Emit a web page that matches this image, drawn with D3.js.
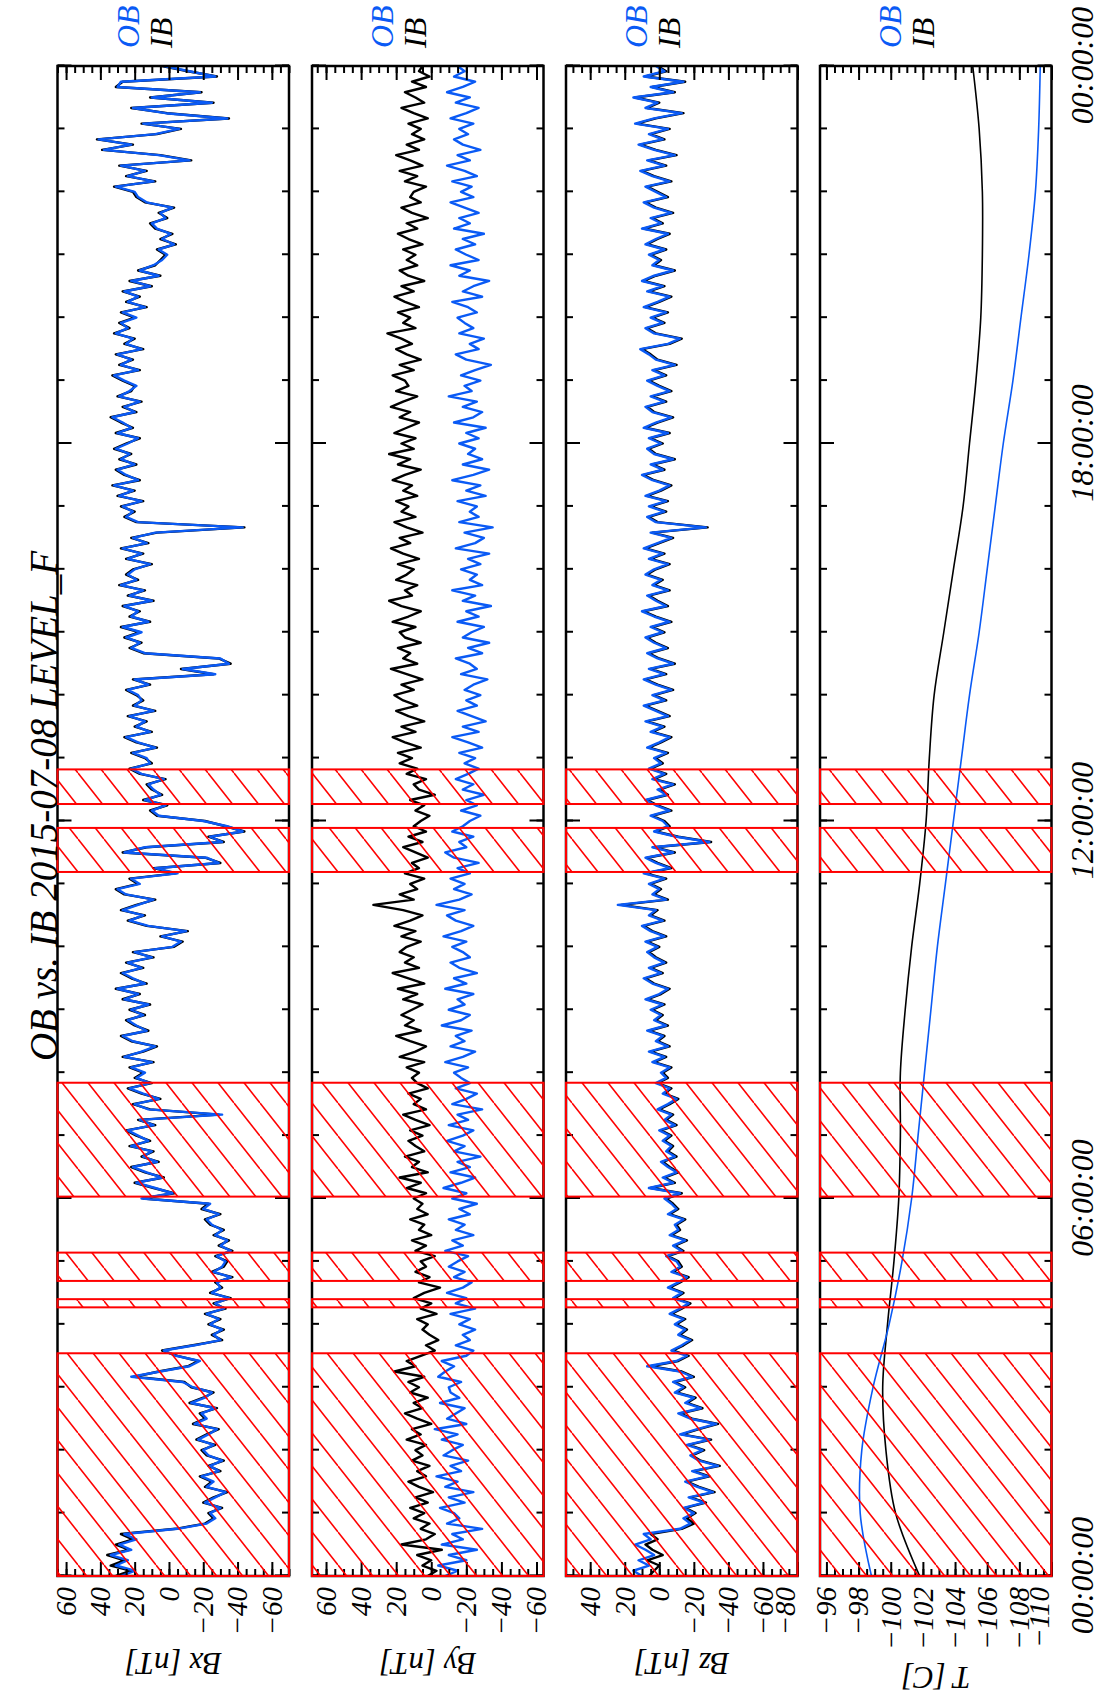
<!DOCTYPE html>
<html><head><meta charset="utf-8">
<script src="https://cdn.jsdelivr.net/npm/d3@7"></script>
<style>
body{margin:0;background:#fff}
svg{display:block}
text{font-family:"Liberation Serif","DejaVu Serif",serif;font-style:italic}
</style>
</head><body>
<svg id="chart" width="1101" height="1697"></svg>
<script>
// ---------- DATA (5-minute samples, 00:00 .. 24:00) ----------
const titleText = "OB vs. IB  2015-07-08 LEVEL_F";
const timeLabels = ["00:00:00","06:00:00","12:00:00","18:00:00","00:00:00"];
const timeMajors = [0, 6, 12, 18, 24];
const flaggedIntervals = [[0,3.54],[4.27,4.40],[4.69,5.14],[6.03,7.84],[11.19,11.89],[12.27,12.82]];

const bxOB = [
 28,20,31,24,34,22,29,19,26,-5,-22,-27,
 -24,-30,-21,-27,-33,-22,-26,-19,-29,-24,-31,-23,
 -20,-26,-17,-23,-28,-15,-22,-19,-27,-13,-21,-25,
 -14,-8,22,5,-12,-18,-4,3,-15,-30,-26,-31,
 -24,-29,-22,-32,-27,-35,-25,-30,-28,-36,-26,-31,
 -33,-28,-36,-30,-34,-27,-31,-25,-22,-29,-20,-24,
 16,-2,8,19,4,13,21,7,15,10,22,12,
 18,24,9,17,-31,12,20,6,15,23,11,19,
 14,22,10,26,16,8,21,27,13,19,24,15,
 22,12,26,18,30,14,21,27,16,24,10,20,
 -2,-7,4,-10,12,23,15,27,18,9,25,30,
 17,22,-5,8,-29,-22,26,14,-31,-24,-43,-34,
 -20,6,10,2,14,5,9,12,3,16,22,11,
 13,21,8,18,25,11,19,14,23,9,20,16,
 18,24,12,20,-27,-8,-35,-30,14,22,17,25,
 16,27,12,22,18,26,10,23,15,28,19,24,
 20,11,24,16,27,13,21,8,-43,18,25,21,
 27,16,29,21,32,18,25,30,20,28,23,31,
 24,18,30,22,27,33,20,26,17,29,23,19,
 26,32,18,28,22,30,16,25,21,31,24,28,
 19,27,14,24,18,26,11,22,6,17,9,4,
 1,6,-3,4,-1,7,10,2,5,-2,13,18,
 20,31,9,24,14,28,-12,6,38,22,41,8,
 -6,15,-34,2,21,-25,10,-18,30,28,-27,-12,
 3
];
const bxIB = [
 31,22,34,26,36,23,31,21,28,-4,-21,-26,
 -23,-31,-20,-26,-34,-21,-25,-18,-30,-23,-32,-22,
 -19,-27,-16,-22,-29,-14,-21,-18,-28,-12,-20,-26,
 -13,-9,20,6,-11,-17,-5,4,-14,-31,-25,-32,
 -23,-30,-21,-33,-26,-36,-24,-31,-27,-37,-25,-32,
 -34,-27,-37,-29,-35,-26,-32,-24,-21,-30,-19,-23,
 15,-3,9,20,3,14,22,6,16,9,23,11,
 19,25,8,18,-29,11,21,5,16,24,10,20,
 15,23,9,27,15,7,22,28,12,20,25,14,
 23,11,27,17,31,13,22,28,15,25,9,21,
 -3,-8,5,-11,13,24,14,28,19,8,26,31,
 18,23,-4,9,-30,-21,27,13,-32,-23,-44,-33,
 -21,7,11,1,15,4,10,13,2,17,23,10,
 14,22,7,19,26,10,20,13,24,8,21,15,
 19,25,11,21,-26,-7,-36,-29,15,23,16,26,
 17,28,11,23,17,27,9,24,14,29,18,25,
 21,10,25,15,28,12,22,7,-44,19,26,20,
 28,15,30,20,33,17,26,31,19,29,22,32,
 25,17,31,21,28,34,19,27,16,30,22,20,
 27,33,17,29,21,31,15,26,20,32,23,29,
 20,28,13,25,17,27,10,23,5,18,8,5,
 2,7,-4,5,-2,8,11,1,6,-3,14,19,
 21,32,8,25,13,29,-13,5,39,21,42,7,
 -7,16,-35,1,22,-26,11,-19,31,27,-28,-11,
 4
];
const byOB = [
 -8,-15,-4,-20,-10,-26,-6,-18,-12,-29,-9,-16,
 -13,-5,-19,-10,-24,-8,-15,-3,-17,-11,-21,-7,
 -12,-18,-6,-15,-2,-20,-9,-14,-19,-5,-16,-11,
 -10,-17,-4,-8,-13,-6,-20,-24,-14,-22,-18,-25,
 -16,-22,-11,-25,-14,-20,-9,-18,-23,-13,-19,-10,
 -15,-21,-8,-18,-12,-24,-14,-19,-10,-22,-16,-26,
 -12,-20,-7,-17,-25,-11,-22,-15,-28,-13,-19,-9,
 -18,-24,-10,-21,-15,-29,-12,-20,-26,-14,-22,-17,
 -13,-21,-8,-18,-25,-11,-19,-14,-23,-6,-17,-22,
 -10,-19,-15,-24,-8,-20,-13,-26,-16,-11,-22,-18,
 -12,-20,-7,-17,-24,-14,-9,-19,-3,-16,-23,-13,
 -19,-11,-22,-15,-27,-13,-8,-20,-16,-24,-12,-18,
 -22,-28,-17,-26,-20,-30,-18,-24,-14,-21,-27,-19,
 -25,-16,-29,-21,-12,-27,-18,-31,-23,-15,-26,-20,
 -28,-19,-24,-32,-17,-26,-22,-14,-29,-21,-33,-18,
 -23,-30,-15,-27,-20,-34,-18,-25,-12,-29,-22,-26,
 -17,-28,-21,-33,-14,-25,-30,-19,-35,-16,-27,-22,
 -26,-15,-31,-20,-28,-12,-24,-33,-18,-29,-21,-25,
 -16,-27,-20,-31,-13,-24,-29,-18,-26,-10,-23,-19,
 -28,-17,-25,-34,-20,-14,-27,-22,-30,-16,-24,-19,
 -15,-26,-21,-12,-29,-18,-24,-33,-16,-22,-11,-27,
 -20,-14,-25,-18,-30,-13,-22,-16,-27,-19,-11,-24,
 -17,-23,-12,-26,-19,-9,-22,-15,-28,-18,-13,-21,
 -16,-24,-11,-20,-27,-14,-22,-9,-18,-25,-13,-19,
 -15
];
const byIB = [
 2,-3,5,0,8,-6,17,3,-2,6,1,10,
 4,12,2,9,-1,7,13,3,8,1,11,5,
 9,3,14,6,11,0,8,15,5,10,2,12,
 7,13,4,21,9,14,6,-2,3,-4,1,5,
 2,8,-3,6,0,10,4,-5,7,1,9,3,
 6,-2,9,3,11,0,7,4,12,2,8,5,
 10,3,14,6,18,2,11,7,15,4,9,13,
 5,12,1,9,16,3,10,6,13,2,8,11,
 7,14,4,18,9,3,12,20,6,15,10,17,
 11,5,16,8,19,4,13,22,7,15,10,18,
 14,6,17,9,21,12,5,16,33,10,18,8,
 12,4,15,7,11,2,9,16,5,13,3,10,
 6,1,9,4,12,-2,7,10,3,14,8,18,
 11,19,6,15,22,9,17,4,13,20,8,16,
 21,10,17,5,14,23,8,16,12,19,6,15,
 18,9,22,13,6,17,24,11,15,8,20,14,
 10,19,7,16,23,12,18,5,14,21,9,17,
 13,20,8,16,11,22,15,6,19,12,24,10,
 17,9,21,14,7,18,12,23,16,8,20,13,
 15,22,10,18,6,14,20,11,17,25,9,16,
 12,19,7,15,21,10,17,4,13,18,8,14,
 9,16,5,13,19,8,14,2,11,17,6,12,
 10,3,15,8,18,5,12,20,7,14,4,11,
 6,13,2,10,17,4,9,15,3,11,1,7,
 5
];
const bzOB = [
 10,15,6,12,3,8,14,5,9,-12,-18,-14,
 -20,-14,-26,-17,-31,-22,-15,-28,-19,-34,-23,-18,
 -25,-16,-29,-12,-22,-33,-18,-11,-24,-15,-20,-9,
 -14,-8,-19,-12,7,-10,-16,-7,-13,-18,-11,-15,
 -9,-14,-6,-12,-17,-8,-13,-5,-11,-16,-7,-12,
 -10,-4,-13,-8,-15,-6,-11,-9,-14,-5,-10,-7,
 -3,-12,6,-8,-2,-10,-5,-1,-9,-4,-7,-2,
 -6,0,-9,-3,-7,1,-5,-10,-2,-6,2,-4,
 -1,-6,4,-3,6,-5,2,-2,7,-4,3,-1,
 5,-2,8,0,-5,4,9,-1,6,-3,3,7,
 1,8,-3,5,10,-2,6,2,24,-4,4,0,
 6,-3,9,-6,2,8,-8,4,-29,-10,3,-5,
 -2,5,-6,2,8,-4,1,-8,4,-3,6,-1,
 3,-4,7,0,-6,5,-2,8,-5,2,9,-3,
 4,-7,2,9,-3,6,-8,1,7,-4,3,8,
 -2,5,-6,3,10,-4,2,7,-5,4,-1,8,
 3,-5,6,-2,9,1,-7,5,-27,2,7,-3,
 6,-4,8,0,-6,4,10,-2,5,-8,3,7,
 -1,6,-5,9,2,-7,4,8,-3,5,-6,1,
 7,-3,4,-9,2,6,11,-5,-12,3,8,-2,
 5,-4,9,1,-6,7,-2,10,3,-8,4,0,
 6,-3,8,2,-5,10,-1,5,-7,3,9,-4,
 2,8,-6,4,11,-3,7,-9,3,12,-2,6,
 -5,14,3,-13,8,1,15,-8,5,-14,9,-3,
 2
];
const bzIB = [
 6,3,0,7,-2,4,8,1,5,-13,-20,-16,
 -21,-15,-27,-18,-32,-23,-16,-29,-20,-35,-24,-19,
 -26,-17,-30,-13,-23,-34,-19,-12,-25,-16,-21,-10,
 -15,-9,-20,-13,5,-11,-17,-8,-14,-19,-12,-16,
 -10,-15,-7,-13,-18,-9,-14,-6,-12,-17,-8,-13,
 -11,-5,-14,-9,-16,-7,-12,-10,-15,-6,-11,-8,
 -4,-13,5,-9,-3,-11,-6,-2,-10,-5,-8,-3,
 -7,-1,-10,-4,-8,0,-6,-11,-3,-7,1,-5,
 -2,-7,3,-4,5,-6,1,-3,6,-5,2,-2,
 4,-3,7,-1,-6,3,8,-2,5,-4,2,6,
 0,7,-4,4,9,-3,5,1,22,-5,3,-1,
 5,-4,8,-7,1,7,-9,3,-30,-11,2,-6,
 -3,4,-7,1,7,-5,0,-9,3,-4,5,-2,
 2,-5,6,-1,-7,4,-3,7,-6,1,8,-4,
 3,-8,1,8,-4,5,-9,0,6,-5,2,7,
 -3,4,-7,2,9,-5,1,6,-6,3,-2,7,
 2,-6,5,-3,8,0,-8,4,-28,1,6,-4,
 5,-5,7,-1,-7,3,9,-3,4,-9,2,6,
 -2,5,-6,8,1,-8,3,7,-4,4,-7,0,
 6,-4,3,-10,1,5,10,-6,-13,2,7,-3,
 4,-5,8,0,-7,6,-3,9,2,-9,3,-1,
 5,-4,7,1,-6,9,-2,4,-8,2,8,-5,
 1,7,-7,3,10,-4,6,-10,2,11,-3,5,
 -6,13,2,-14,7,0,14,-9,4,-15,8,-4,
 1
];
// temperatures, hourly
const tHours = [0,1,2,3,4,5,6,7,8,9,10,11,12,13,14,15,16,17,18,19,20,21,22,23,24];
const tOB = [-98.8,-98.1,-98.2,-98.9,-99.9,-100.7,-101.3,-101.7,-102.1,-102.5,-102.9,-103.4,-103.9,-104.4,-104.9,-105.5,-106.0,-106.5,-107.0,-107.6,-108.1,-108.6,-109.0,-109.2,-109.3];
const tIB = [-101.8,-100.3,-99.7,-99.5,-99.8,-100.2,-100.5,-100.6,-100.6,-100.9,-101.3,-101.8,-102.2,-102.4,-102.7,-103.3,-103.9,-104.5,-104.9,-105.3,-105.6,-105.7,-105.7,-105.5,-105.1];

const bMajors = [60,40,20,0,-20,-40,-60];
const bzMajors = [40,20,0,-20,-40,-60,-80];
const tMajors = [-96,-98,-100,-102,-104,-106,-108,-110];

// ---------- LAYOUT ----------
const W = 1101, H = 1697;
const BLUE = "#0a5af5";
const svg = d3.select("#chart");
const defs = svg.append("defs");
const pat = defs.append("pattern").attr("id","hatch").attr("patternUnits","userSpaceOnUse")
  .attr("width",33).attr("height",26);
[[0,26,33,0],[-33,26,0,0],[33,26,66,0]].forEach(l=>{
  pat.append("line").attr("x1",l[0]).attr("y1",l[1]).attr("x2",l[2]).attr("y2",l[3])
    .attr("stroke","#ff0000").attr("stroke-width",1.6);
});

const fmt = d => String(d).replace("-", "\u2212");

// landscape frame, rotated into the portrait page
const g = svg.append("g").attr("transform",`translate(0,${H}) rotate(-90)`);
const X0 = 121, X1 = 1631, PH = 231.5;
const x = d3.scaleLinear().domain([0,24]).range([X0,X1]);
const times = d3.range(bxOB.length).map(i => i/12);
const hours = d3.range(0,25);

const panels = [
  {top:57.5, domain:[65,-70], majors:bMajors, minor:d3.range(-70,65.01,5), ob:bxOB, ib:bxIB, xs:times, title:"Bx [nT]", titleX:34, lw:2.4, curve:d3.curveLinear, shiftLast:false},
  {top:312,  domain:[68,-64], majors:bMajors, minor:d3.range(-60,65.01,5), ob:byOB, ib:byIB, xs:times, title:"By [nT]", titleX:34, lw:2.4, curve:d3.curveLinear, shiftLast:false},
  {top:566,  domain:[54,-80], majors:bzMajors, minor:d3.range(-80,50.01,5), ob:bzOB, ib:bzIB, xs:times, title:"Bz [nT]", titleX:34, lw:2.4, curve:d3.curveLinear, shiftLast:true},
  {top:820,  domain:[-95.6,-110], majors:tMajors, minor:d3.range(-110,-95.59,0.5), ob:tOB, ib:tIB, xs:tHours, title:"T [C]", titleX:20, lw:1.6, curve:d3.curveCatmullRom, shiftLast:true}
];

function styleAxis(sel, fs){
  sel.select(".domain").remove();
  sel.selectAll(".tick line").attr("stroke","#000").attr("stroke-width",2);
  sel.attr("font-family",null).attr("font-size",fs);
  sel.selectAll("text").attr("fill","#000");
}

panels.forEach((p, pi) => {
  const y = d3.scaleLinear().domain(p.domain).range([p.top, p.top+PH]);
  const pg = g.append("g");
  const clipId = "clip"+pi;
  defs.append("clipPath").attr("id",clipId).append("rect")
    .attr("x",X0).attr("y",p.top).attr("width",X1-X0).attr("height",PH);

  // data
  const line = d3.line().x((d,i)=>x(p.xs[i])).y(d=>y(d)).curve(p.curve);
  const dg = pg.append("g").attr("clip-path",`url(#${clipId})`);
  dg.append("path").datum(p.ib).attr("d",line).attr("fill","none").attr("stroke","#000")
    .attr("stroke-width",p.lw).attr("stroke-linejoin","round");
  dg.append("path").datum(p.ob).attr("d",line).attr("fill","none").attr("stroke",BLUE)
    .attr("stroke-width",p.lw).attr("stroke-linejoin","round");

  // value axes (left = labels, right = ticks only), ticks pointing inward
  const la = pg.append("g").attr("transform",`translate(${X0},0)`)
    .call(d3.axisLeft(y).tickValues(p.majors).tickSize(-14).tickPadding(11).tickFormat(fmt));
  styleAxis(la, 29);
  if (p.shiftLast) {
    la.selectAll(".tick text").filter(d => d === p.domain[1]).attr("dy","-0.12em");
  }
  const lm = pg.append("g").attr("transform",`translate(${X0},0)`)
    .call(d3.axisLeft(y).tickValues(p.minor).tickSize(-7).tickFormat(""));
  styleAxis(lm, 10);
  const ra = pg.append("g").attr("transform",`translate(${X1},0)`)
    .call(d3.axisRight(y).tickValues(p.majors).tickSize(-14).tickFormat(""));
  styleAxis(ra, 10);
  const rm = pg.append("g").attr("transform",`translate(${X1},0)`)
    .call(d3.axisRight(y).tickValues(p.minor).tickSize(-7).tickFormat(""));
  styleAxis(rm, 10);

  // time axes
  const bot = p.top + PH;
  const bm = pg.append("g").attr("transform",`translate(0,${bot})`)
    .call(d3.axisBottom(x).tickValues(hours).tickSize(-7).tickFormat(""));
  styleAxis(bm, 10);
  const bM = pg.append("g").attr("transform",`translate(0,${bot})`)
    .call(d3.axisBottom(x).tickValues(timeMajors).tickSize(-14)
      .tickFormat((d,i)=> pi===3 ? timeLabels[i] : ""));
  styleAxis(bM, 32);
  bM.selectAll(".tick text").attr("y",30).attr("dy","0.35em");
  const tm = pg.append("g").attr("transform",`translate(0,${p.top})`)
    .call(d3.axisTop(x).tickValues(hours).tickSize(-7).tickFormat(""));
  styleAxis(tm, 10);
  const tM = pg.append("g").attr("transform",`translate(0,${p.top})`)
    .call(d3.axisTop(x).tickValues(timeMajors).tickSize(-14).tickFormat(""));
  styleAxis(tM, 10);

  // frame
  pg.append("rect").attr("x",X0).attr("y",p.top).attr("width",X1-X0).attr("height",PH)
    .attr("fill","none").attr("stroke","#000").attr("stroke-width",2.5);

  // flagged (hatched) intervals
  pg.selectAll("rect.flag").data(flaggedIntervals).join("rect").attr("class","flag")
    .attr("x",d=>x(d[0])).attr("width",d=>x(d[1])-x(d[0]))
    .attr("y",p.top).attr("height",PH)
    .attr("fill","url(#hatch)").attr("stroke","#ff0000").attr("stroke-width",2);

  // axis title (reads upside down once the page is rotated)
  pg.append("text").attr("transform",`translate(${p.titleX},${p.top+PH/2}) rotate(-90)`)
    .attr("text-anchor","middle").attr("dominant-baseline","central")
    .attr("font-size",31).attr("fill","#000").text(p.title);

  // legend
  pg.append("text").attr("x",1649).attr("y",p.top+70).attr("dominant-baseline","central")
    .attr("font-size",32).attr("fill",BLUE).text("OB");
  pg.append("text").attr("x",1649).attr("y",p.top+103).attr("dominant-baseline","central")
    .attr("font-size",32).attr("fill","#000").text("IB");
});

// title
g.append("text").attr("x",891).attr("y",43).attr("text-anchor","middle")
  .attr("dominant-baseline","central").attr("font-size",39).attr("fill","#000")
  .text(titleText);
</script>
</body></html>
